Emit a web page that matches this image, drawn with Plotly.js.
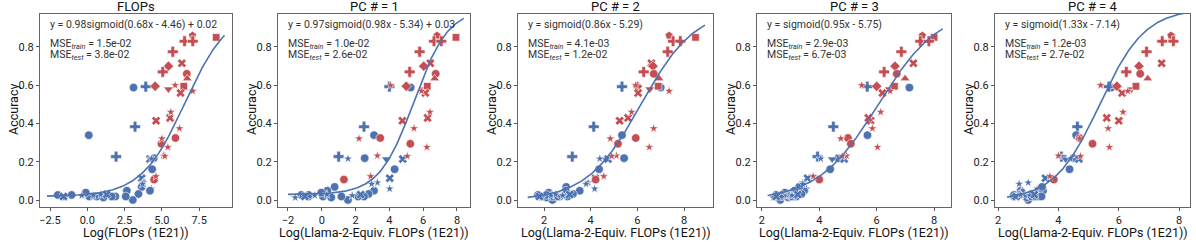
<!DOCTYPE html>
<html>
<head>
<meta charset="utf-8">
<script src="https://cdn.plot.ly/plotly-3.0.1.min.js"></script>
<style>html,body{margin:0;padding:0;background:#fff;}#chart{width:1196px;height:242px;}</style>
</head>
<body>
<div id="chart"></div>
<script>
// ---------------- data ----------------
const panelTitles = ['FLOPs', 'PC # = 1', 'PC # = 2', 'PC # = 3', 'PC # = 4'];
const xAxisTitles = ['Log(FLOPs (1E21))', 'Log(Llama-2-Equiv. FLOPs (1E21))', 'Log(Llama-2-Equiv. FLOPs (1E21))', 'Log(Llama-2-Equiv. FLOPs (1E21))', 'Log(Llama-2-Equiv. FLOPs (1E21))'];
const fitTexts = ['y = 0.98sigmoid(0.68x - 4.46) + 0.02', 'y = 0.97sigmoid(0.98x - 5.34) + 0.03', 'y = sigmoid(0.86x - 5.29)', 'y = sigmoid(0.95x - 5.75)', 'y = sigmoid(1.33x - 7.14)'];
const fitScale = [0.98, 0.97, 1, 1, 1];
const fitSlope = [0.68, 0.98, 0.86, 0.95, 1.33];
const fitBias = [-4.46, -5.34, -5.29, -5.75, -7.14];
const fitOffset = [0.02, 0.03, 0, 0, 0];
const curveStart = [-2.7, -2.0, 1.3, 2.2, 2.3];
const curveEnd = [9.2, 8.4, 8.9, 8.3, 8.4];
const mseTrain = ['1.5e-02', '1.0e-02', '4.1e-03', '2.9e-03', '1.2e-03'];
const mseTest = ['3.8e-02', '2.6e-02', '1.2e-02', '6.7e-03', '2.7e-02'];
const xTickVals = [[-2.5, 0, 2.5, 5, 7.5], [-2, 0, 2, 4, 6, 8], [2, 4, 6, 8], [2, 4, 6, 8], [2, 4, 6, 8]];
const xTickText = [['−2.5', '0.0', '2.5', '5.0', '7.5'], ['−2', '0', '2', '4', '6', '8'], ['2', '4', '6', '8'], ['2', '4', '6', '8'], ['2', '4', '6', '8']];
const xRanges = [[-3.17, 9.7], [-2.59, 8.77], [0.885, 9.24], [1.83, 8.59], [1.9, 8.36]];
const yTickVals = [0, 0.2, 0.4, 0.6, 0.8];

// one entry per model
const modelSymbol = ['square','pentagon','cross','cross','cross','x','diamond','cross','circle','triangle-up',
  'diamond','star','triangle-down','square','x','star','x','x','star','star',
  'circle','circle','star','star','star','star','circle','star',
  'circle','cross','cross','circle','cross','circle','triangle-down','circle','x','star',
  'x','star','star','circle','circle','circle','circle','circle','circle','circle',
  'circle','circle','circle','circle','circle','circle','circle','star','star','x',
  'star','star','x','star'];
const modelSplit = ['test','test','test','test','test','test','test','test','test','test',
  'test','test','test','test','test','test','test','test','test','test',
  'test','test','test','test','test','test','test','test',
  'train','train','train','train','train','train','train','train','train','train',
  'train','train','train','train','train','train','train','train','train','train',
  'train','train','train','train','train','train','train','train','train','train',
  'train','train','train','train'];
const modelAccuracy = [0.85,0.86,0.83,0.83,0.775,0.715,0.70,0.67,0.66,0.635,
  0.595,0.60,0.58,0.595,0.56,0.57,0.415,0.43,0.46,0.375,
  0.325,0.295,0.322,0.277,0.233,0.23,0.108,0.125,
  0.588,0.593,0.384,0.34,0.228,0.22,0.215,0.162,0.215,0.217,
  0.115,0.092,0.06,0.05,0.07,0.033,0.002,0.05,0.02,0.02,
  0.02,0.015,0.02,0.02,0.04,0.028,0.028,0.014,0.025,0.02,
  0.03,0.025,0.03,0.085];
const xFLOPs = [8.64,7.05,6.52,7.07,5.73,6.34,5.44,5.06,6.67,6.7,
  4.55,5.89,5.44,6.47,6.25,7.07,4.61,5.55,5.6,6.18,
  5.91,4.97,5.0,5.4,5.1,5.2,4.48,4.6,
  3.1,3.92,3.2,0.1,1.93,4.45,4.35,4.35,4.2,4.3,
  3.65,3.76,4.3,4.2,3.65,3.43,3.05,2.65,2.58,1.88,
  1.64,1.08,0.63,0.14,-0.1,-1.98,-1.05,-1.5,-0.37,-1.6,
  0.9,0.4,1.3,3.7];
const xPC1 = [7.94,6.82,6.64,7.07,5.79,6.42,6.03,5.2,6.74,6.68,
  5.0,4.07,5.99,6.24,6.13,5.9,4.77,6.26,6.4,5.46,
  3.46,5.24,2.2,6.22,3.29,5.06,1.31,2.89,
  5.26,4.0,2.5,3.09,1.0,2.54,3.82,4.31,4.79,1.55,
  4.02,3.29,4.02,3.09,0.76,2.77,1.55,0.33,2.5,2.14,
  1.16,0.56,0.07,-0.78,-0.03,-1.21,-0.78,-1.57,-0.42,-1.0,
  0.3,1.8,2.3,2.95];
const xPC2 = [8.49,7.36,7.53,7.84,7.3,6.6,6.67,6.27,6.7,6.93,
  6.0,5.93,6.53,6.89,6.03,7.36,5.24,5.6,5.75,6.7,
  5.93,5.17,4.84,6.51,5.1,4.9,4.21,4.56,
  7.0,5.34,4.13,5.34,3.21,5.43,4.65,4.36,4.74,4.39,
  4.2,3.89,4.17,3.53,2.95,3.24,2.36,2.93,3.0,2.67,
  2.2,2.1,2.4,2.6,2.2,1.74,2.1,1.9,2.3,1.8,
  2.5,2.8,3.1,3.8];
const xPC3 = [8.0,7.59,7.52,7.82,6.86,7.28,6.64,6.26,6.7,6.99,
  6.0,5.48,6.44,6.62,6.2,6.47,5.79,5.71,6.14,5.85,
  5.0,5.1,4.75,6.03,4.95,4.8,4.0,3.79,
  7.14,5.67,4.49,5.68,3.94,4.66,4.45,4.38,4.87,4.05,
  3.59,3.42,3.55,3.47,3.3,3.38,2.64,3.13,3.2,3.1,
  2.95,2.92,3.0,2.7,2.8,2.49,2.7,2.4,2.85,2.5,
  2.95,3.05,3.25,3.42];
const xPC4 = [7.76,7.73,7.44,7.81,6.92,7.42,6.67,6.25,6.71,6.96,
  5.94,5.4,6.42,6.57,6.11,6.3,6.0,5.6,6.14,5.65,
  4.7,5.13,4.7,5.69,4.0,4.73,3.85,3.72,
  5.75,5.67,4.63,4.59,4.1,4.5,4.24,4.37,4.68,4.4,
  3.57,3.0,3.3,3.49,3.46,3.1,3.0,2.75,3.3,3.44,
  3.2,2.95,3.1,2.53,2.8,2.53,2.7,2.6,2.9,2.6,
  2.75,3.05,3.2,2.7];
const panelX = [xFLOPs, xPC1, xPC2, xPC3, xPC4];

// ---------------- styling ----------------
const W = 1196, H = 242;
const domainsPx = [[40, 232], [278, 470], [518, 713], [757, 951], [995, 1190]];
const yDomain = [1 - 207 / H, 1 - 14 / H];
const colors = {train: '#4C72B0', test: '#C44E52'};
const symbolSize = {'circle': 8.5, 'cross': 9, 'x': 8, 'star': 7, 'diamond': 8, 'triangle-up': 8.5, 'triangle-down': 8.5, 'square': 7.5, 'pentagon': 8.5};
const FONT = 'Roboto, "Liberation Sans", Arial, sans-serif';

const traces = [];
const annotations = [];
const layout = {
  width: W, height: H,
  margin: {l: 0, r: 0, t: 0, b: 0},
  paper_bgcolor: '#ffffff', plot_bgcolor: '#ffffff',
  showlegend: false,
  font: {family: FONT, color: '#222', size: 11},
  annotations: annotations
};

for (let p = 0; p < 5; p++) {
  const xa = p === 0 ? 'x' : 'x' + (p + 1);
  const ya = p === 0 ? 'y' : 'y' + (p + 1);
  const xKey = p === 0 ? 'xaxis' : 'xaxis' + (p + 1);
  const yKey = p === 0 ? 'yaxis' : 'yaxis' + (p + 1);
  const d0 = domainsPx[p][0] / W, d1 = domainsPx[p][1] / W;

  layout[xKey] = {
    domain: [d0, d1], range: xRanges[p], anchor: ya,
    showgrid: false, zeroline: false,
    showline: true, mirror: true, linecolor: '#666', linewidth: 1,
    ticks: 'outside', ticklen: 3, tickwidth: 1, tickcolor: '#555',
    tickvals: xTickVals[p], ticktext: xTickText[p],
    tickfont: {size: 11, color: '#222', family: FONT}
  };
  layout[yKey] = {
    domain: yDomain, range: [-0.035, 0.972], anchor: xa,
    showgrid: false, zeroline: false,
    showline: true, mirror: true, linecolor: '#666', linewidth: 1,
    ticks: 'outside', ticklen: 3, tickwidth: 1, tickcolor: '#555',
    tickvals: yTickVals, tickformat: '.1f',
    tickfont: {size: 11, color: '#222', family: FONT}
  };

  ['train', 'test'].forEach(function (split) {
    const xs = [], ys = [], syms = [], sizes = [];
    for (let i = 0; i < modelAccuracy.length; i++) {
      if (modelSplit[i] !== split) continue;
      xs.push(panelX[p][i]);
      ys.push(modelAccuracy[i]);
      syms.push(modelSymbol[i]);
      sizes.push(symbolSize[modelSymbol[i]]);
    }
    traces.push({
      type: 'scatter', mode: 'markers', x: xs, y: ys, xaxis: xa, yaxis: ya,
      marker: {color: colors[split], symbol: syms, size: sizes, opacity: 1, line: {color: '#ffffff', width: 0.6}},
      hoverinfo: 'x+y'
    });
  });

  // fitted sigmoid curve from the printed fit parameters
  const cx = [], cy = [];
  const n = 200;
  for (let k = 0; k <= n; k++) {
    const x = curveStart[p] + (curveEnd[p] - curveStart[p]) * k / n;
    cx.push(x);
    cy.push(fitScale[p] / (1 + Math.exp(-(fitSlope[p] * x + fitBias[p]))) + fitOffset[p]);
  }
  traces.push({
    type: 'scatter', mode: 'lines', x: cx, y: cy, xaxis: xa, yaxis: ya,
    line: {color: '#4C72B0', width: 1.6}, hoverinfo: 'skip'
  });

  const cx0 = (domainsPx[p][0] + domainsPx[p][1]) / 2 / W;
  annotations.push({
    text: panelTitles[p], xref: 'paper', yref: 'paper', x: cx0, y: 1 - 6.5 / H,
    xanchor: 'center', yanchor: 'middle', showarrow: false,
    font: {size: 13, color: '#111', family: FONT}
  });
  annotations.push({
    text: xAxisTitles[p], xref: 'paper', yref: 'paper', x: cx0, y: 1 - 232.5 / H,
    xanchor: 'center', yanchor: 'middle', showarrow: false,
    font: {size: 12.5, color: '#111', family: FONT}
  });
  annotations.push({
    text: 'Accuracy', xref: 'paper', yref: 'paper', x: (domainsPx[p][0] - 27) / W, y: 1 - 110 / H,
    xanchor: 'center', yanchor: 'middle', textangle: -90, showarrow: false,
    font: {size: 12.5, color: '#111', family: FONT}
  });
  const tx = (domainsPx[p][0] + 8) / W;
  annotations.push({
    text: fitTexts[p], xref: 'paper', yref: 'paper', x: tx, y: 1 - 25 / H,
    xanchor: 'left', yanchor: 'middle', showarrow: false,
    font: {size: 10.5, color: '#333', family: FONT}
  });
  annotations.push({
    text: 'MSE<sub><i>train</i></sub> = ' + mseTrain[p], xref: 'paper', yref: 'paper', x: tx, y: 1 - 44 / H,
    xanchor: 'left', yanchor: 'middle', showarrow: false,
    font: {size: 10.5, color: '#333', family: FONT}
  });
  annotations.push({
    text: 'MSE<sub><i>test</i></sub> = ' + mseTest[p], xref: 'paper', yref: 'paper', x: tx, y: 1 - 55.5 / H,
    xanchor: 'left', yanchor: 'middle', showarrow: false,
    font: {size: 10.5, color: '#333', family: FONT}
  });
}

Plotly.newPlot('chart', traces, layout, {staticPlot: true, displayModeBar: false});
</script>
</body>
</html>
